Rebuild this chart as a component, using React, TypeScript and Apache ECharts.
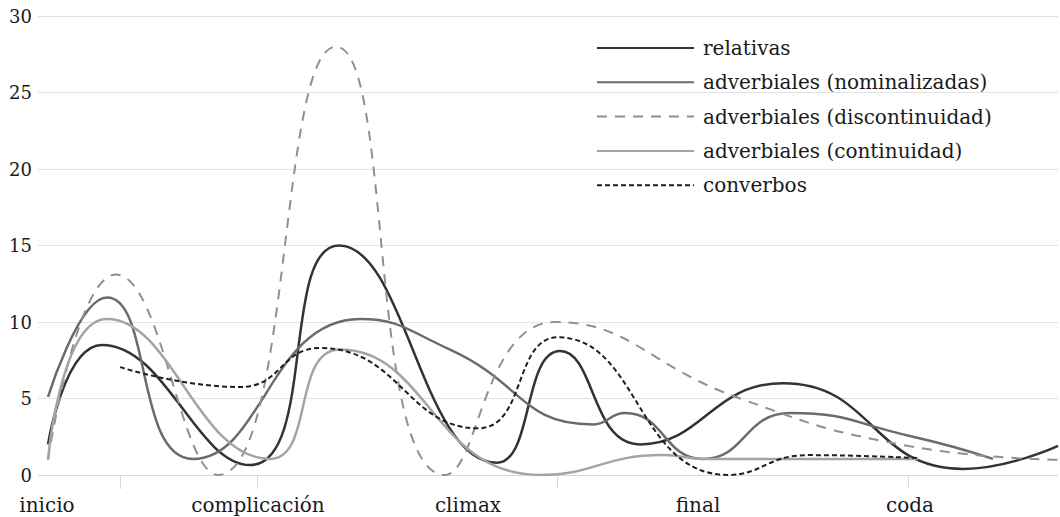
import React, { useEffect, useRef } from "react";
import * as echarts from "echarts";

const stageLabels = ["inicio", "complicación", "climax", "final", "coda"];
const stagePositions = [0.9, 22, 43, 66, 87.2];
const tickPositions = [8.2, 21.9, 51.9, 87.0];

const relativasX = [1.0, 6.4, 21.2, 30.1, 45.9, 52.2, 60.2, 74.5, 92.5, 102];
const relativasY = [2, 8.5, 0.65, 15, 0.8, 8.1, 2.0, 6.0, 0.4, 1.9];

const nominalizadasX = [1.0, 6.9, 15.5, 32.2, 41.2, 55.5, 58.7, 66.5, 75.2, 87.5, 95.5];
const nominalizadasY = [5.1, 11.6, 1.05, 10.2, 8.2, 3.3, 4.05, 1.05, 4.05, 2.5, 1.05];

const discontinuidadX = [1.0, 7.8, 18.0, 29.8, 40.7, 51.7, 70.2, 86.2, 102];
const discontinuidadY = [1.0, 13.1, 0, 28, 0, 10, 5.0, 2.0, 1.0];

const continuidadX = [1.0, 6.9, 23.2, 30.2, 50.2, 62.5, 66.7, 88.0];
const continuidadY = [1.0, 10.2, 1.05, 8.2, 0, 1.3, 1.05, 1.05];

const converbosX = [8.2, 20.2, 28.2, 44.0, 52.0, 69.0, 77.0, 88.0];
const converbosY = [7.05, 5.75, 8.3, 3.05, 9.0, 0, 1.3, 1.1];

const zip = (xs: number[], ys: number[]) => xs.map((x, i) => [x, ys[i]]);

const FONT = "DejaVu Serif";

export default function App() {
  const ref = useRef<HTMLDivElement>(null);
  useEffect(() => {
    if (!ref.current) return;
    const chart = echarts.init(ref.current, null, { renderer: "svg" });
    const mk = (name: string, data: number[][], color: string, width: number, type: any) => ({
      name,
      type: "line",
      data,
      smooth: 0.5,
      symbol: "none",
      showSymbol: false,
      clip: true,
      lineStyle: { color, width, type, cap: "butt" },
      itemStyle: { color },
    });
    chart.setOption({
      animation: false,
      backgroundColor: "#ffffff",
      grid: { left: 38, right: 2, top: 16, bottom: 42, containLabel: false },
      legend: {
        orient: "vertical",
        left: 591,
        top: 33,
        itemWidth: 97,
        itemHeight: 14,
        itemGap: 14.3,
        itemStyle: { opacity: 0, color: "transparent", borderWidth: 0 },
        textStyle: {
          fontFamily: FONT,
          fontSize: 20,
          color: "#1a1a1a",
          lineHeight: 20,
          padding: [0, 0, 0, 4],
        },
      },
      xAxis: {
        type: "value",
        min: 0,
        max: 102,
        splitLine: { show: false },
        axisLine: { show: true, lineStyle: { color: "#d9d9d9", width: 1 } },
        axisTick: {
          show: true,
          customValues: tickPositions,
          length: 14,
          lineStyle: { color: "#d9d9d9", width: 1 },
        },
        axisLabel: {
          customValues: stagePositions,
          margin: 20,
          fontFamily: FONT,
          fontSize: 20,
          color: "#1a1a1a",
          formatter: (v: number) => {
            const i = stagePositions.findIndex((p) => Math.abs(p - v) < 0.01);
            return i >= 0 ? stageLabels[i] : "";
          },
        },
      },
      yAxis: {
        type: "value",
        min: 0,
        max: 30,
        interval: 5,
        axisLine: { show: false },
        axisTick: { show: false },
        splitLine: { lineStyle: { color: "#e3e3e3", width: 1 } },
        axisLabel: { fontFamily: FONT, fontSize: 18, color: "#1a1a1a", margin: 6 },
      },
      series: [
        mk("relativas", zip(relativasX, relativasY), "#333333", 2.5, "solid"),
        mk("adverbiales (nominalizadas)", zip(nominalizadasX, nominalizadasY), "#6b6b6b", 2.5, "solid"),
        mk("adverbiales (discontinuidad)", zip(discontinuidadX, discontinuidadY), "#8e8e9e", 2, [10, 8]),
        mk("adverbiales (continuidad)", zip(continuidadX, continuidadY), "#a4a4a4", 2.5, "solid"),
        mk("converbos", zip(converbosX, converbosY), "#1f1f1f", 2, [5, 3]),
      ],
    });
    return () => chart.dispose();
  }, []);
  return (
    <div
      ref={ref}
      style={{ position: "absolute", left: 0, top: 0, width: 1060, height: 517, background: "#fff" }}
    />
  );
}
